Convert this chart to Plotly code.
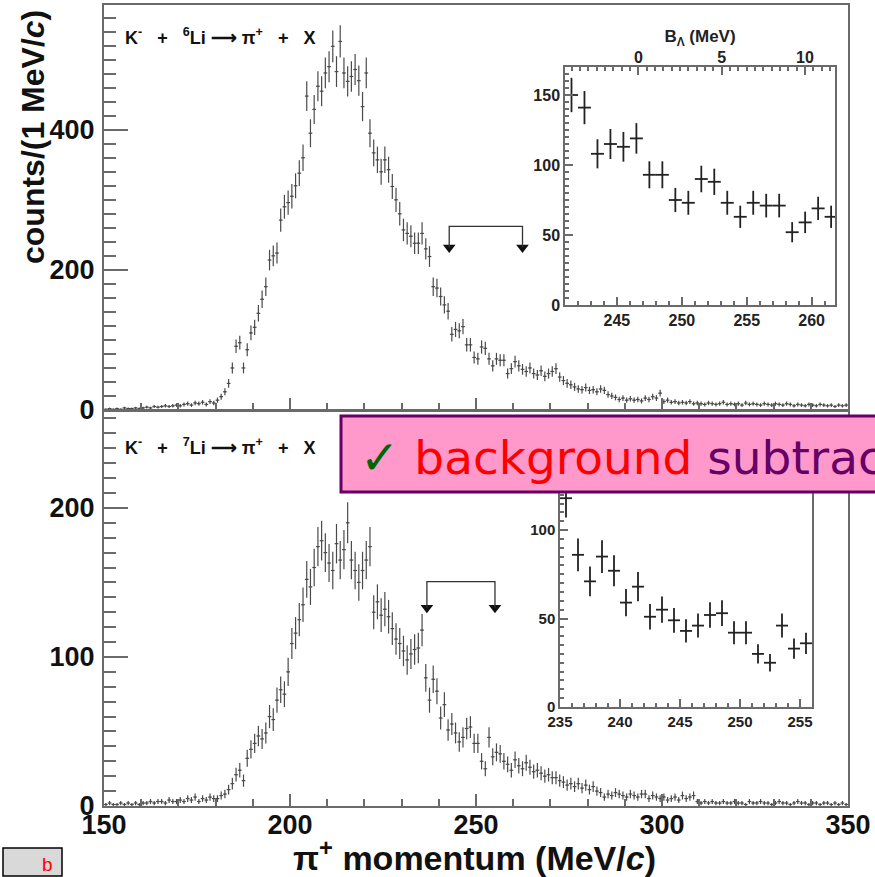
import numpy as np
import plotly.graph_objects as go

# ---------------- data ----------------
bin_lo = 150
# K- + 6Li -> pi+ + X : counts per 1 MeV/c bin, bins 150..349
li6_counts = [
    1, 2, 1, 2, 1, 3, 2, 2, 3, 2,
    3, 4, 3, 5, 4, 5, 6, 5, 6, 7,
    6, 8, 9, 7, 10, 9, 11, 8, 12, 10,
    14, 19, 26, 38, 60, 91, 96, 60, 86, 110,
    118, 138, 158, 176, 214, 220, 224, 271, 290, 296,
    305, 320, 338, 360, 448, 395, 429, 462, 455, 481,
    490, 519, 483, 526, 481, 469, 476, 486, 470, 433,
    481, 395, 367, 357, 340, 357, 343, 319, 300, 280,
    257, 252, 248, 238, 238, 252, 230, 219, 176, 174,
    162, 150, 141, 108, 115, 113, 119, 93, 93, 75,
    73, 90, 88, 73, 63, 73, 71, 71, 52, 59,
    69, 63, 58, 55, 60, 52, 50, 56, 48, 52,
    55, 59, 47, 42, 38, 36, 33, 30, 29, 32,
    28, 29, 26, 30, 28, 22, 20, 18, 15, 17,
    14, 16, 14, 15, 13, 17, 15, 19, 17, 24,
    12, 14, 11, 12, 10, 11, 10, 12, 9, 10,
    9, 8, 10, 9, 8, 9, 11, 8, 9, 8,
    9, 7, 10, 8, 9, 8, 7, 9, 8, 7,
    9, 8, 7, 9, 8, 6, 8, 7, 6, 8,
    7, 6, 8, 7, 6, 7, 5, 7, 6, 7,
]
# K- + 7Li -> pi+ + X
li7_counts = [
    1, 2, 1, 1, 2, 1, 2, 1, 2, 1,
    2, 2, 3, 2, 3, 3, 2, 4, 3, 3,
    4, 3, 5, 4, 6, 3, 5, 4, 6, 5,
    5, 7, 8, 11, 15, 21, 24, 17, 32, 38,
    42, 47, 45, 49, 60, 58, 71, 78, 75, 90,
    109, 116, 125, 135, 152, 147, 160, 174, 178, 170,
    163, 158, 176, 165, 172, 190, 165, 158, 150, 158,
    165, 174, 130, 137, 128, 132, 127, 119, 112, 109,
    104, 98, 102, 105, 106, 118, 86, 71, 85, 77,
    59, 68, 51, 55, 49, 43, 46, 52, 53, 42,
    42, 30, 25, 46, 33, 36, 35, 30, 28, 24,
    31, 27, 25, 29, 26, 23, 24, 22, 20, 21,
    19, 19, 17, 16, 14, 15, 13, 15, 12, 14,
    11, 13, 10, 9, 6, 8, 7, 9, 8, 7,
    6, 8, 7, 6, 8, 8, 5, 7, 6, 5,
    6, 4, 5, 6, 4, 7, 5, 6, 7, 3,
    2, 3, 2, 3, 2, 2, 3, 2, 2, 3,
    2, 2, 1, 3, 2, 2, 3, 2, 2, 1,
    2, 3, 2, 2, 1, 2, 3, 2, 2, 1,
    2, 2, 1, 2, 2, 1, 2, 1, 2, 1,
]
# insets (zoomed region)
li6_inset_p = [241.5, 242.5, 243.5, 244.5, 245.5, 246.5, 247.5, 248.5, 249.5, 250.5,
               251.5, 252.5, 253.5, 254.5, 255.5, 256.5, 257.5, 258.5, 259.5, 260.5, 261.5]
li6_inset_counts = [150, 141, 108, 115, 113, 119, 93, 93, 75, 73,
                    90, 88, 73, 63, 73, 71, 71, 52, 59, 69, 63]
li7_inset_p = [235.5, 236.5, 237.5, 238.5, 239.5, 240.5, 241.5, 242.5, 243.5, 244.5,
               245.5, 246.5, 247.5, 248.5, 249.5, 250.5, 251.5, 252.5, 253.5, 254.5, 255.5]
li7_inset_counts = [118, 86, 71, 85, 77, 59, 68, 51, 55, 49,
                    43, 46, 52, 53, 42, 42, 30, 25, 46, 33, 36]

# arrow brackets marking the inset ranges (momentum, MeV/c)
li6_arrow_range = [242.8, 262.5]
li7_arrow_range = [236.8, 255.1]
li6_arrow_levels = [262, 232]   # bracket top, arrow tip (counts)
li7_arrow_levels = [150.5, 133]

x_ticks_main = [150, 200, 250, 300, 350]
li6_inset_B_range = [-4.4, 11.8]

# --------------- figure ---------------
W, H = 875, 877
def px(x):
    return x / W
def py(y):
    return 1 - y / H

centers = np.arange(bin_lo, bin_lo + len(li6_counts)) + 0.5
li6 = np.array(li6_counts, dtype=float)
li7 = np.array(li7_counts, dtype=float)

FRAME = "#6a6a6a"
DATA = "#4a4a4a"
FONT = "Liberation Sans"

fig = go.Figure()

def hist_trace(x, y, xa, ya, thick, color, msize):
    y = np.asarray(y, dtype=float)
    return go.Scatter(
        x=x, y=y, xaxis=xa, yaxis=ya, mode="markers",
        marker=dict(size=msize, color=color, symbol="line-ew",
                    line=dict(width=1, color=color)),
        error_y=dict(type="data", array=np.sqrt(y), thickness=thick, width=0, color=color),
        error_x=dict(type="constant", value=0.5, thickness=thick, width=0, color=color),
        showlegend=False, hoverinfo="skip", cliponaxis=True,
    )

fig.add_trace(hist_trace(centers, li6, "x", "y", 1.2, DATA, 1))
fig.add_trace(hist_trace(centers, li7, "x2", "y2", 1.2, DATA, 1))
fig.add_trace(hist_trace(li6_inset_p, li6_inset_counts, "x3", "y3", 1.8, "#222222", 1))
fig.add_trace(hist_trace(li7_inset_p, li7_inset_counts, "x5", "y5", 1.8, "#222222", 1))
# invisible trace so that the B_Lambda top axis is drawn
fig.add_trace(go.Scatter(x=li6_inset_B_range, y=[-10, -10], xaxis="x4", yaxis="y3",
                         mode="markers", marker=dict(opacity=0), showlegend=False, hoverinfo="skip"))

# arrow heads
for rng, lv, xa, ya in [(li6_arrow_range, li6_arrow_levels, "x", "y"),
                        (li7_arrow_range, li7_arrow_levels, "x2", "y2")]:
    fig.add_trace(go.Scatter(x=rng, y=[lv[1], lv[1]], xaxis=xa, yaxis=ya, mode="markers",
                             marker=dict(symbol="triangle-down", size=11, color="#111111"),
                             showlegend=False, hoverinfo="skip"))
    fig.add_shape(type="path",
                  path=f"M {rng[0]},{lv[1]} L {rng[0]},{lv[0]} L {rng[1]},{lv[0]} L {rng[1]},{lv[1]}",
                  xref=xa, yref=ya, line=dict(color="#333333", width=1.3))

tickfont_main = dict(family=FONT, size=27, color="#111111", weight="bold")
tickfont_inset = dict(family=FONT, size=16, color="#222222", weight="bold")
tickfont_inset2 = dict(family=FONT, size=15, color="#222222", weight="bold")

main_x = [px(104), px(848)]

def axis_common(**kw):
    d = dict(showline=True, linecolor=FRAME, linewidth=2, mirror=True, ticks="inside",
             tickcolor=FRAME, showgrid=False, zeroline=False, tickwidth=1.5, automargin=False)
    d.update(kw)
    return d

fig.update_layout(
    width=W, height=H, margin=dict(l=0, r=0, t=0, b=0, pad=0, autoexpand=False),
    paper_bgcolor="white", plot_bgcolor="white", showlegend=False,
    xaxis=axis_common(domain=main_x, range=[150, 350], anchor="y", showticklabels=False,
                      tickvals=x_ticks_main, ticklen=12,
                      minor=dict(ticks="inside", dtick=10, ticklen=7, tickcolor=FRAME, showgrid=False)),
    yaxis=axis_common(domain=[py(410), py(5)], range=[0, 578], anchor="x", dtick=200, ticklen=24,
                      tickfont=tickfont_main, ticklabelstandoff=2,
                      minor=dict(ticks="inside", dtick=20, ticklen=12, tickcolor=FRAME, showgrid=False)),
    xaxis2=axis_common(domain=main_x, range=[150, 350], anchor="y2", tickvals=x_ticks_main,
                       ticklen=12, tickfont=tickfont_main, ticklabelstandoff=-6,
                       minor=dict(ticks="inside", dtick=10, ticklen=7, tickcolor=FRAME, showgrid=False)),
    yaxis2=axis_common(domain=[py(806), py(411)], range=[0, 265], anchor="x2", dtick=100, ticklen=24,
                       tickfont=tickfont_main, ticklabelstandoff=2,
                       minor=dict(ticks="inside", dtick=10, ticklen=12, tickcolor=FRAME, showgrid=False)),
    # top inset
    xaxis3=axis_common(domain=[px(565), px(835)], range=[241, 261.8], anchor="y3", mirror=False,
                       dtick=5, ticklen=8, tickfont=tickfont_inset, linewidth=1.5,
                       minor=dict(ticks="inside", dtick=1, ticklen=4, tickcolor=FRAME, showgrid=False)),
    yaxis3=axis_common(domain=[py(305), py(67)], range=[0, 170], anchor="x3", dtick=50, ticklen=8,
                       tickfont=tickfont_inset, linewidth=1.5,
                       minor=dict(ticks="inside", dtick=5, ticklen=4, tickcolor=FRAME, showgrid=False)),
    xaxis4=axis_common(overlaying="x3", side="top", anchor="y3", range=li6_inset_B_range, mirror=False,
                       dtick=5, ticklen=8, tickfont=tickfont_inset, linewidth=1.5, ticklabelstandoff=-4,
                       title=dict(text="B<sub>Λ</sub> (MeV)", font=dict(family=FONT, size=17, color="#222222", weight="bold"), standoff=0),
                       minor=dict(ticks="inside", dtick=0.5, ticklen=4, tickcolor=FRAME, showgrid=False)),
    # bottom inset (its upper part is hidden behind the banner)
    xaxis5=axis_common(domain=[px(560), px(812)], range=[235, 256], anchor="y5",
                       dtick=5, ticklen=8, tickfont=tickfont_inset2, linewidth=1.5,
                       minor=dict(ticks="inside", dtick=1, ticklen=4, tickcolor=FRAME, showgrid=False)),
    yaxis5=axis_common(domain=[py(707), py(469)], range=[0, 134.5], anchor="x5", dtick=50, ticklen=8,
                       tickfont=tickfont_inset2, linewidth=1.5,
                       minor=dict(ticks="inside", dtick=5, ticklen=4, tickcolor=FRAME, showgrid=False)),
)

def note(text, x, y, size, color="#111111", family=FONT, bold=True, **kw):
    font = dict(family=family, size=size, color=color)
    if bold:
        font["weight"] = "bold"
    d = dict(text=text, x=px(x), y=py(y), xref="paper", yref="paper", showarrow=False,
             xanchor="center", yanchor="middle", font=font)
    d.update(kw)
    fig.add_annotation(**d)

note("counts/(1 MeV/<i>c</i>)", 33, 137, 32, textangle=-90)
note("π<sup>+</sup> momentum (MeV/<i>c</i>)", 475, 855, 34)
nb = "&nbsp;"
note(f"K<sup>-</sup>{nb*3}+{nb*3}<sup>6</sup>Li{nb}⟶{nb}π<sup>+</sup>{nb*3}+{nb*3}X", 123, 36, 18, xanchor="left")
note(f"K<sup>-</sup>{nb*3}+{nb*3}<sup>7</sup>Li{nb}⟶{nb}π<sup>+</sup>{nb*3}+{nb*3}X", 123, 447, 18, xanchor="left")

# banner
fig.add_shape(type="rect", xref="paper", yref="paper", x0=px(341), x1=px(900), y0=py(492), y1=py(416),
              fillcolor="#FF99CC", line=dict(color="#660066", width=3), layer="above")
note("<span style='color:#006600'>✓</span> <span style='color:#FF0000'>background</span> "
     "<span style='color:#660066'>subtraction</span>",
     358, 457, 47, family="DejaVu Sans", bold=False, xanchor="left")

# small label box
fig.add_shape(type="rect", xref="paper", yref="paper", x0=px(3), x1=px(62), y0=py(876), y1=py(848),
              fillcolor="#D9D9D9", line=dict(color="#000000", width=1.5), layer="above")
note("b", 47, 864, 19, color="#FF0000", bold=False)

fig.write_html("out.html", config={"displayModeBar": False},
               post_script="document.body.style.margin='0px';document.body.style.overflow='hidden';")
